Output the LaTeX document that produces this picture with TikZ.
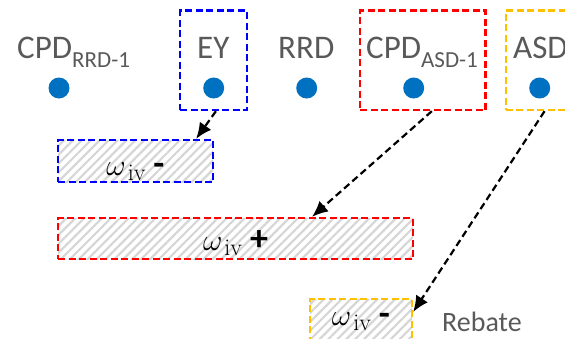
\RequirePackage{fix-cm}
\documentclass[tikz,border=0pt]{standalone}
\usepackage{fontspec}
\setmainfont{Carlito}
\newfontfamily\serifm{Latin Modern Roman}
\usetikzlibrary{patterns.meta,arrows.meta}
\definecolor{dotblue}{HTML}{0070C0}
\definecolor{txtgray}{HTML}{595959}
\definecolor{boxorange}{HTML}{FFC000}
\definecolor{boxred}{HTML}{FF0000}
\definecolor{boxblue}{HTML}{0000FF}
\definecolor{hatch}{HTML}{D6D6D6}
\newcommand{\subl}[1]{\raisebox{-9pt}{\fontsize{23}{24}\selectfont #1}}
\newcommand{\omg}[1]{$\omega$\hspace{2pt}\raisebox{-5pt}{\serifm\fontsize{24}{26}\selectfont iv}\hspace{8pt}{\fontsize{36}{38}\selectfont\textbf{#1}}}
\begin{document}
\begin{tikzpicture}[x=1pt,y=-1pt,
  lbl/.style={text=txtgray,font=\fontsize{33}{36}\selectfont,inner sep=0pt,anchor=base west},
  pt/.style={circle,fill=dotblue,minimum size=21pt,inner sep=0pt},
  frame/.style={draw=#1,line width=2.3pt,dash pattern=on 7pt off 3.5pt,inner sep=0pt},
  hbox/.style={frame=#1,pattern={Lines[angle=45,distance=6.3pt,line width=2.2pt]},pattern color=hatch,
    font=\fontsize{30}{32}\selectfont,text=black,text depth=0pt},
  arr/.style={draw=black,line width=2.2pt,dash pattern=on 7pt off 4pt,-{Latex[length=16pt,width=14pt]}}]
\useasboundingbox (0,0) rectangle (565,338);
\clip (0,0) rectangle (565,338);
% frames
\node[frame=boxblue,minimum width=66.5pt,minimum height=99.5pt] (fey) at (213.4,60.3) {};
\node[frame=boxred,minimum width=125.5pt,minimum height=99.5pt] (fasd1) at (422.8,60.3) {};
\node[frame=boxorange,minimum width=80pt,minimum height=99.5pt] (fasd) at (545.7,60.3) {};
% labels
\node[lbl] (lrrd1) at (17,58.3) {CPD\subl{RRD-1}};
\node[lbl] (ley) at (197,58.3) {EY};
\node[lbl] (lrrd) at (278,58.3) {RRD};
\node[lbl] (lasd1) at (366,58.3) {CPD\subl{ASD-1}};
\node[lbl] (lasd) at (513,58.3) {ASD};
% dots
\node[pt] (d1) at (59,88) {};
\node[pt] (d2) at (213.7,88) {};
\node[pt] (d3) at (306.7,88) {};
\node[pt] (d4) at (413.7,88) {};
\node[pt] (d5) at (539.7,88) {};
% hatched boxes
\node[hbox=boxblue,minimum width=155pt,minimum height=42pt,text height=28pt] (b1) at (135.5,161) {\omg{-}};
\node[hbox=boxred,minimum width=355pt,minimum height=41pt,text height=23pt] (b2) at (235.5,238.5) {\omg{+}};
\node[hbox=boxorange,minimum width=102pt,minimum height=42pt,text height=10pt] (b3) at (361,320) {\omg{-}};
\node[text=txtgray,font=\fontsize{28}{30}\selectfont,inner sep=0pt,anchor=base west] (reb) at (442,331) {Rebate};
% arrows
\draw[arr] ([xshift=2.5pt]fey.south) -- ([xshift=-18pt]b1.north east);
\draw[arr] ([xshift=9pt]fasd1.south) -- ([xshift=76.5pt]b2.north);
\draw[arr] ([xshift=40pt]fasd.south west) -- ([yshift=8pt]b3.east);
\end{tikzpicture}
\end{document}
